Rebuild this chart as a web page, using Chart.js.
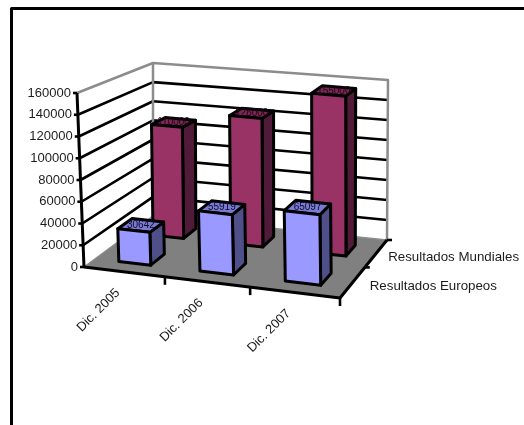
<!DOCTYPE html>
<html>
<head>
<meta charset="utf-8">
<title>Resultados</title>
<script src="https://cdn.jsdelivr.net/npm/chart.js@4"></script>
<style>
  html, body { margin: 0; padding: 0; background: #fff; }
  canvas { display: block; }
</style>
</head>
<body>
<canvas id="grafico" width="524" height="425"></canvas>
<script>
const categorias = ["Dic. 2005", "Dic. 2006", "Dic. 2007"];
const europeos = [30642, 55919, 65097];
const mundiales = [110000, 126000, 155000];
const nombres = ["Resultados Europeos", "Resultados Mundiales"];
const maximo = 160000;
const paso = 20000;

// corners of the floor and how far the walls rise over each one
const suelo = [[84, 267], [340, 298], [387, 240], [153, 216]];
const alturas = [[-7, -174], [-2, -176], [1, -160], [0, -153]];
const filas = [0.25, 0.75];
const fondoFila = 0.1;
const sangria = [17, 12];

const colores = [
    { frente: "#9999ff", lado: "#4f4f8a", tapa: "#7a7ad0", texto: "#0c0c30" },
    { frente: "#993366", lado: "#4f1b38", tapa: "#7a2851", texto: "#22061a" }
];
const fuente = "13px 'Liberation Sans', Arial, sans-serif";
const fuenteSerie = "13.3px 'Liberation Sans', Arial, sans-serif";
const tinta = "#1c1c1c";

// floor homography from the unit square
function crearSuelo(p) {
    const sx = p[0][0] - p[1][0] + p[2][0] - p[3][0];
    const sy = p[0][1] - p[1][1] + p[2][1] - p[3][1];
    const dx1 = p[1][0] - p[2][0], dy1 = p[1][1] - p[2][1];
    const dx2 = p[3][0] - p[2][0], dy2 = p[3][1] - p[2][1];
    const den = dx1 * dy2 - dx2 * dy1;
    const g = (sx * dy2 - dx2 * sy) / den;
    const h = (dx1 * sy - sx * dy1) / den;
    return function (u, d) {
        const w = g * u + h * d + 1;
        return [
            ((p[1][0] - p[0][0] + g * p[1][0]) * u + (p[3][0] - p[0][0] + h * p[3][0]) * d + p[0][0]) / w,
            ((p[1][1] - p[0][1] + g * p[1][1]) * u + (p[3][1] - p[0][1] + h * p[3][1]) * d + p[0][1]) / w
        ];
    };
}
const puntoSuelo = crearSuelo(suelo);

// u across categories, v up the value axis, d into the depth, all 0..1
function proyectar(u, v, d) {
    const base = puntoSuelo(u, d);
    const mezcla = (i) =>
        (alturas[0][i] * (1 - u) + alturas[1][i] * u) * (1 - d) +
        (alturas[3][i] * (1 - u) + alturas[2][i] * u) * d;
    return [base[0] + mezcla(0) * v, base[1] + mezcla(1) * v];
}

function trazo(ctx, puntos, color, ancho) {
    ctx.beginPath();
    puntos.forEach((p, i) => (i ? ctx.lineTo(p[0], p[1]) : ctx.moveTo(p[0], p[1])));
    ctx.strokeStyle = color;
    ctx.lineWidth = ancho;
    ctx.stroke();
}

function cara(ctx, puntos, relleno) {
    ctx.beginPath();
    puntos.forEach((p, i) => (i ? ctx.lineTo(p[0], p[1]) : ctx.moveTo(p[0], p[1])));
    ctx.closePath();
    ctx.fillStyle = relleno;
    ctx.fill();
    ctx.strokeStyle = "#000";
    ctx.lineWidth = 3;
    ctx.stroke();
}

const caja3d = {
    id: "caja3d",
    beforeDatasetsDraw(chart) {
        const ctx = chart.ctx;
        const area = chart.chartArea;
        const y = chart.scales.y;
        ctx.save();
        ctx.lineJoin = "round";

        // page frame, open on the right and at the bottom
        trazo(ctx, [[11.5, 425], [11.5, 8.5], [524, 8.5]], "#000", 3);

        // floor
        ctx.beginPath();
        [[0, 0], [1, 0], [1, 1], [0, 1]].forEach((c, i) => {
            const p = puntoSuelo(c[0], c[1]);
            i ? ctx.lineTo(p[0], p[1]) : ctx.moveTo(p[0], p[1]);
        });
        ctx.closePath();
        ctx.fillStyle = "#808080";
        ctx.fill();

        // grid on both walls
        y.ticks.forEach((t) => {
            if (t.value === 0 || t.value === maximo) return;
            const v = t.value / maximo;
            trazo(ctx, [proyectar(0, v, 0), proyectar(0, v, 1), proyectar(1, v, 1)], "#000", 2.6);
        });

        // wall outline
        trazo(ctx, [proyectar(0, 1, 0), proyectar(0, 1, 1), proyectar(1, 1, 1), proyectar(1, 0, 1)], "#8c8c8c", 2.5);
        trazo(ctx, [proyectar(0, 1, 1), proyectar(0, 0, 1)], "#8c8c8c", 2.5);
        trazo(ctx, [proyectar(0, 0, 0), proyectar(0, 0, 1)], "#8c8c8c", 1.5);
        trazo(ctx, [proyectar(0, 0, 1), proyectar(1, 0, 1)], "#8c8c8c", 1.5);

        // value axis with ticks and labels
        trazo(ctx, [proyectar(0, 1, 0), proyectar(0, 0, 0)], "#000", 3);
        ctx.font = fuente;
        ctx.fillStyle = tinta;
        ctx.textAlign = "right";
        ctx.textBaseline = "middle";
        y.ticks.forEach((t) => {
            const p = proyectar(0, (area.bottom - y.getPixelForValue(t.value)) / area.height, 0);
            trazo(ctx, [[p[0] - 4, p[1]], p], "#000", 2.6);
            ctx.fillStyle = tinta;
            ctx.fillText(String(t.value), p[0] - 6, p[1]);
        });

        // front and right edges of the floor
        trazo(ctx, [proyectar(0, 0, 0), proyectar(1, 0, 0), proyectar(1, 0, 1)], "#000", 3);
        const n = categorias.length;
        for (let i = 1; i <= n; i++) {
            const p = puntoSuelo(i / n, 0);
            trazo(ctx, [p, [p[0], p[1] + 8]], "#000", 2.6);
        }
        [0.5, 1].forEach((d) => {
            const p = puntoSuelo(1, d);
            trazo(ctx, [p, [p[0] + 5, p[1]]], "#000", 2.6);
        });

        // category labels
        chart.scales.x.ticks.forEach((t, i) => {
            const p = puntoSuelo((chart.scales.x.getPixelForValue(i) - area.left) / area.width, 0);
            ctx.save();
            ctx.translate(p[0] - 6, p[1] + 19);
            ctx.rotate(-Math.PI / 4);
            ctx.textAlign = "right";
            ctx.fillStyle = tinta;
            ctx.fillText(categorias[i], 0, 0);
            ctx.restore();
        });

        // series names beside the depth axis
        ctx.font = fuenteSerie;
        ctx.textAlign = "left";
        ctx.fillStyle = tinta;
        filas.forEach((d, i) => {
            const p = puntoSuelo(1, d);
            ctx.fillText(chart.data.datasets[i].label, p[0] + sangria[i], p[1] + 4);
        });
        ctx.restore();
    },
    // bars are taken from the parsed elements and drawn as prisms
    beforeDatasetDraw(chart, args) {
        const ctx = chart.ctx;
        const area = chart.chartArea;
        const tono = colores[args.index];
        const d0 = filas[args.index] - fondoFila;
        const d1 = filas[args.index] + fondoFila;
        ctx.save();
        ctx.lineJoin = "round";
        args.meta.data.forEach((barra, i) => {
            const u0 = (barra.x - barra.width / 2 - area.left) / area.width;
            const u1 = (barra.x + barra.width / 2 - area.left) / area.width;
            const v = (barra.base - barra.y) / area.height;
            cara(ctx, [proyectar(u1, 0, d0), proyectar(u1, 0, d1), proyectar(u1, v, d1), proyectar(u1, v, d0)], tono.lado);
            cara(ctx, [proyectar(u0, v, d0), proyectar(u1, v, d0), proyectar(u1, v, d1), proyectar(u0, v, d1)], tono.tapa);
            cara(ctx, [proyectar(u0, 0, d0), proyectar(u1, 0, d0), proyectar(u1, v, d0), proyectar(u0, v, d0)], tono.frente);
            const c = proyectar((u0 + u1) / 2, v, filas[args.index]);
            ctx.font = "10px 'Liberation Sans', Arial, sans-serif";
            ctx.fillStyle = tono.texto;
            ctx.textAlign = "center";
            ctx.textBaseline = "middle";
            ctx.fillText(String(chart.data.datasets[args.index].data[i]), c[0], c[1]);
        });
        ctx.restore();
        return false;
    }
};

new Chart(document.getElementById("grafico"), {
    type: "bar",
    data: {
        labels: categorias,
        datasets: [
            { label: nombres[0], data: europeos },
            { label: nombres[1], data: mundiales }
        ]
    },
    options: {
        responsive: false,
        animation: false,
        layout: { padding: { left: 84, right: 184, top: 93, bottom: 158 } },
        datasets: { bar: { grouped: false, barPercentage: 0.4, categoryPercentage: 1 } },
        plugins: { legend: { display: false }, tooltip: { enabled: false } },
        scales: {
            x: { display: false, offset: true },
            y: {
                display: false,
                min: 0,
                max: maximo,
                ticks: { stepSize: paso }
            }
        }
    },
    plugins: [caja3d]
});
</script>
</body>
</html>
